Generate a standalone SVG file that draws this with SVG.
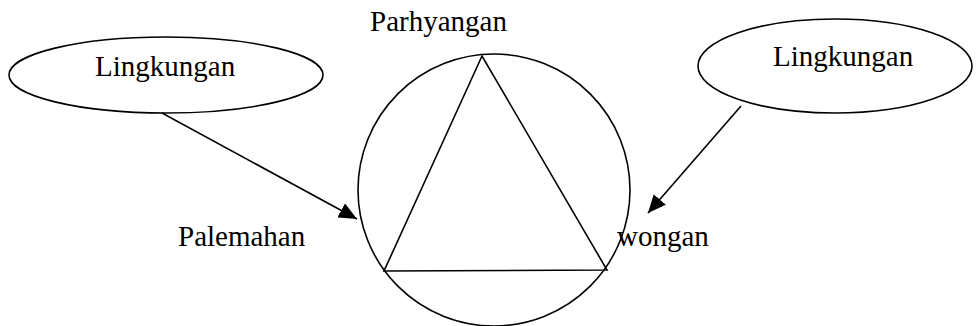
<svg xmlns="http://www.w3.org/2000/svg" width="977" height="326" viewBox="0 0 977 326">
<style>
.shape{fill:none;stroke:#000;stroke-width:1.6}
.conn{stroke:#000;stroke-width:1.6;fill:none}
text{font-family:"Liberation Serif","Times New Roman",serif;font-size:29px;fill:#000}
</style>
<defs>
<marker id="arr" markerUnits="userSpaceOnUse" markerWidth="20" markerHeight="16" refX="18" refY="8" orient="auto">
<path d="M0,0 L18,8 L0,16 Z" fill="#000"/>
</marker>
</defs>
<rect width="977" height="326" fill="#fff"/>
<g id="lingkungan-left">
<ellipse class="shape" cx="166" cy="75" rx="157" ry="38"/>
<text x="95" y="76">Lingkungan</text>
</g>
<g id="lingkungan-right">
<ellipse class="shape" cx="835" cy="66" rx="137" ry="47"/>
<text x="773" y="66">Lingkungan</text>
</g>
<g id="tri-hita-karana">
<circle class="shape" cx="494" cy="190" r="136"/>
<polygon class="shape" points="482,56 384,271 607,270"/>
</g>
<g id="parhyangan"><text x="370" y="31">Parhyangan</text></g>
<g id="palemahan"><text x="178" y="246">Palemahan</text></g>
<g id="pawongan"><text x="617" y="246">wongan</text></g>
<g id="connectors">
<line class="conn" x1="162" y1="113" x2="357" y2="219" marker-end="url(#arr)"/>
<line class="conn" x1="741" y1="106" x2="648" y2="213" marker-end="url(#arr)"/>
</g>
</svg>
